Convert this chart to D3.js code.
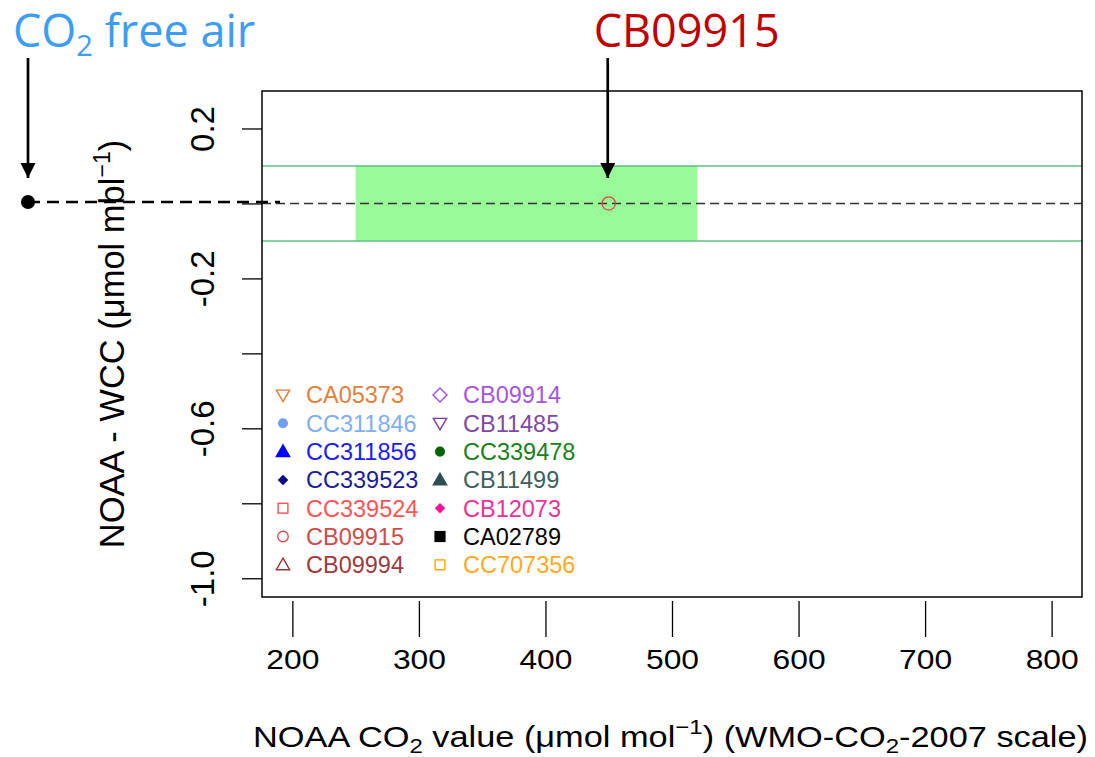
<!DOCTYPE html>
<html>
  <head>
    <title>NOAA - WCC</title>
    <script src="https://d3js.org/d3.v7.min.js"></script>
    <style>
      body { margin: 0; background: #fff; }
      .axis text { font-family: "Liberation Sans", Arial, sans-serif; fill: #000; }
      .legend text { font-family: "Liberation Sans", Arial, sans-serif; font-size: 23.5px; }
      .note { font-family: "Open Sans", "Noto Sans", sans-serif; font-size: 45px; }
    </style>
  </head>
  <body>
    <svg width="1095" height="757"></svg>

    <script>
      // data
      const xTicks = [200, 300, 400, 500, 600, 700, 800];
      const yTicks = [0.2, 0, -0.2, -0.4, -0.6, -0.8, -1.0];
      const yTickLabels = ["0.2", "", "-0.2", "", "-0.6", "", "-1.0"];
      const bandX = [250, 520];
      const bandY = [-0.1, 0.1];
      const pointNames = ["CB09915"];
      const pointX = [450];
      const pointY = [0];
      const cylinders = ["CA05373", "CC311846", "CC311856", "CC339523", "CC339524", "CB09915", "CB09994",
                         "CB09914", "CB11485", "CC339478", "CB11499", "CB12073", "CA02789", "CC707356"];
      const cylColors = ["#e5782f", "#6f9fef", "#0000ff", "#000080", "#ff4f4f", "#d9494c", "#a0302f",
                         "#a64be0", "#7a3d9e", "#006400", "#2f4f4f", "#ff1493", "#000000", "#ffa500"];
      const textColors = ["#e08040", "#80aef5", "#1a1aff", "#1c1c9a", "#ff5555", "#d04a4a", "#a03a3a",
                          "#a855dd", "#8048a8", "#1a801a", "#3d6060", "#f0309a", "#000000", "#ffaa22"];
      // pch-like symbol codes
      const cylShapes = ["tridown", "dot", "tri", "diam", "sq", "circ", "triopen",
                         "diamopen", "tridownopen", "dot", "tri", "diam", "sqfill", "sq"];

      const svg = d3.select("svg");
      const box = { left: 262, right: 1082, top: 91, bottom: 597 };

      const x = d3.scaleLinear().domain([176, 824]).range([box.left, box.right]);
      const y = d3.scaleLinear().domain([-1.05, 0.3]).range([box.bottom, box.top]);

      // band
      svg.append("rect")
          .attr("x", x(bandX[0])).attr("y", y(bandY[1]))
          .attr("width", x(bandX[1]) - x(bandX[0]))
          .attr("height", y(bandY[0]) - y(bandY[1]))
          .attr("fill", "#98fb98");
      svg.selectAll(".band-line").data(bandY).enter().append("line")
          .attr("class", "band-line")
          .attr("x1", box.left).attr("x2", box.right)
          .attr("y1", d => y(d)).attr("y2", d => y(d))
          .attr("stroke", "#5cc27f").attr("stroke-width", 1.5);

      // zero line
      svg.append("line")
          .attr("x1", box.left).attr("x2", box.right)
          .attr("y1", y(0)).attr("y2", y(0))
          .attr("stroke", "#333").attr("stroke-width", 1.6)
          .attr("stroke-dasharray", "9,5");

      // axes
      const xAxis = svg.append("g").attr("class", "axis")
          .attr("transform", `translate(0, ${box.bottom + 4})`)
          .call(d3.axisBottom(x).tickValues(xTicks).tickSize(36).tickPadding(12).tickFormat(d3.format("d")));
      xAxis.select(".domain").remove();
      xAxis.selectAll("line").attr("stroke", "#000").attr("stroke-width", 1.3);
      xAxis.selectAll("text").attr("font-size", 28).attr("dy", "0.71em")
          .attr("textLength", 53).attr("lengthAdjust", "spacingAndGlyphs");

      const yAxis = svg.append("g").attr("class", "axis")
          .attr("transform", `translate(${box.left}, 0)`)
          .call(d3.axisLeft(y).tickValues(yTicks).tickSize(20).tickFormat((d, i) => yTickLabels[i]));
      yAxis.select(".domain").remove();
      yAxis.selectAll("line").attr("stroke", "#000").attr("stroke-width", 1.3);
      yAxis.selectAll("text")
          .attr("font-size", 33)
          .attr("x", 0)
          .attr("text-anchor", "middle")
          .attr("transform", "translate(-60, 0) rotate(-90)")
          .attr("dy", "0.35em");

      svg.append("rect")
          .attr("x", box.left).attr("y", box.top)
          .attr("width", box.right - box.left).attr("height", box.bottom - box.top)
          .attr("fill", "none").attr("stroke", "#000").attr("stroke-width", 1.5);

      // axis titles
      const xt = svg.append("text").attr("class", "axis")
          .attr("x", 253).attr("y", 747)
          .attr("textLength", 835).attr("lengthAdjust", "spacingAndGlyphs")
          .attr("font-family", "Liberation Sans, Arial, sans-serif").attr("font-size", 30);
      xt.append("tspan").text("NOAA CO");
      xt.append("tspan").attr("font-size", 21).attr("dy", 6).text("2");
      xt.append("tspan").attr("dy", -6).text(" value (μmol mol");
      xt.append("tspan").attr("font-size", 21).attr("dy", -13).text("−1");
      xt.append("tspan").attr("dy", 13).text(") (WMO-CO");
      xt.append("tspan").attr("font-size", 21).attr("dy", 6).text("2");
      xt.append("tspan").attr("dy", -6).text("-2007 scale)");

      const yt = svg.append("text")
          .attr("transform", "translate(124, 344) rotate(-90)")
          .attr("text-anchor", "middle")
          .attr("font-family", "Liberation Sans, Arial, sans-serif").attr("font-size", 34.5);
      yt.append("tspan").text("NOAA - WCC (μmol mbl");
      yt.append("tspan").attr("font-size", 23).attr("dy", -14).text("−1");
      yt.append("tspan").attr("dy", 14).text(")");

      // symbols
      function drawSymbol(g, shape, color, size) {
        const s = size;
        if (shape === "dot") {
          g.append("circle").attr("r", s * 0.72).attr("fill", color);
        } else if (shape === "circ") {
          g.append("circle").attr("r", s * 0.75).attr("fill", "none").attr("stroke", color).attr("stroke-width", 1.3);
        } else if (shape === "sq" || shape === "sqfill") {
          g.append("rect").attr("x", -s * 0.7).attr("y", -s * 0.7).attr("width", s * 1.4).attr("height", s * 1.4)
              .attr("fill", shape === "sqfill" ? color : "none").attr("stroke", color).attr("stroke-width", 1.4);
        } else if (shape === "tri" || shape === "triopen") {
          g.append("path").attr("d", `M0,${-s * 0.95}L${s * 0.95},${s * 0.7}L${-s * 0.95},${s * 0.7}Z`)
              .attr("fill", shape === "tri" ? color : "none").attr("stroke", color).attr("stroke-width", 1.4);
        } else if (shape === "tridown" || shape === "tridownopen") {
          g.append("path").attr("d", `M0,${s * 0.95}L${s * 0.95},${-s * 0.7}L${-s * 0.95},${-s * 0.7}Z`)
              .attr("fill", "none").attr("stroke", color).attr("stroke-width", 1.4);
        } else if (shape === "diam") {
          g.append("path").attr("d", `M0,${-s * 0.75}L${s * 0.75},0L0,${s * 0.75}L${-s * 0.75},0Z`).attr("fill", color);
        } else if (shape === "diamopen") {
          g.append("path").attr("d", `M0,${-s}L${s},0L0,${s}L${-s},0Z`)
              .attr("fill", "none").attr("stroke", color).attr("stroke-width", 1.4);
        }
      }

      // points
      pointNames.forEach((name, i) => {
        const k = cylinders.indexOf(name);
        const g = svg.append("g").attr("transform", `translate(${x(pointX[i])}, ${y(pointY[i])})`);
        drawSymbol(g, cylShapes[k], cylColors[k], 8.8);
      });

      // legend
      const legend = svg.append("g").attr("class", "legend");
      cylinders.forEach((name, i) => {
        const col = Math.floor(i / 7), row = i % 7;
        const lx = 283 + col * 157, ly = 395 + row * 28.3;
        const g = legend.append("g").attr("transform", `translate(${lx}, ${ly})`);
        drawSymbol(g, cylShapes[i], cylColors[i], 7);
        g.append("text").attr("x", 23).attr("dy", "0.36em").attr("fill", textColors[i]).text(name);
      });

      // annotations
      const defs = svg.append("defs");
      defs.append("marker").attr("id", "head")
          .attr("viewBox", "0 0 10 10").attr("refX", 10).attr("refY", 5)
          .attr("markerWidth", 5.6).attr("markerHeight", 5.6).attr("markerUnits", "strokeWidth")
          .attr("orient", "auto")
          .append("path").attr("d", "M0,0L10,5L0,10Z").attr("fill", "#000");

      const freeX = 28, freeY = y(0) - 1.5;
      svg.append("line")
          .attr("x1", freeX).attr("x2", 280).attr("y1", freeY).attr("y2", freeY)
          .attr("stroke", "#000").attr("stroke-width", 2.6).attr("stroke-dasharray", "12,7");
      svg.append("circle").attr("cx", freeX).attr("cy", freeY).attr("r", 7).attr("fill", "#000");
      svg.append("line").attr("x1", freeX).attr("x2", freeX).attr("y1", 58).attr("y2", 178)
          .attr("stroke", "#000").attr("stroke-width", 2.7).attr("marker-end", "url(#head)");

      const ax = x(pointX[0]) - 1;
      svg.append("line").attr("x1", ax).attr("x2", ax).attr("y1", 58).attr("y2", 178)
          .attr("stroke", "#000").attr("stroke-width", 2.7).attr("marker-end", "url(#head)");

      const t1 = svg.append("text").attr("class", "note").attr("x", 13).attr("y", 47).attr("fill", "#3d9df5");
      t1.append("tspan").text("CO");
      t1.append("tspan").attr("font-size", 29).attr("dy", 9).text("2");
      t1.append("tspan").attr("dy", -9).text(" free air");

      svg.append("text").attr("class", "note")
          .attr("x", ax + 79).attr("y", 47).attr("text-anchor", "middle")
          .attr("fill", "#c00000").text(pointNames[0]);
    </script>
  </body>
</html>
